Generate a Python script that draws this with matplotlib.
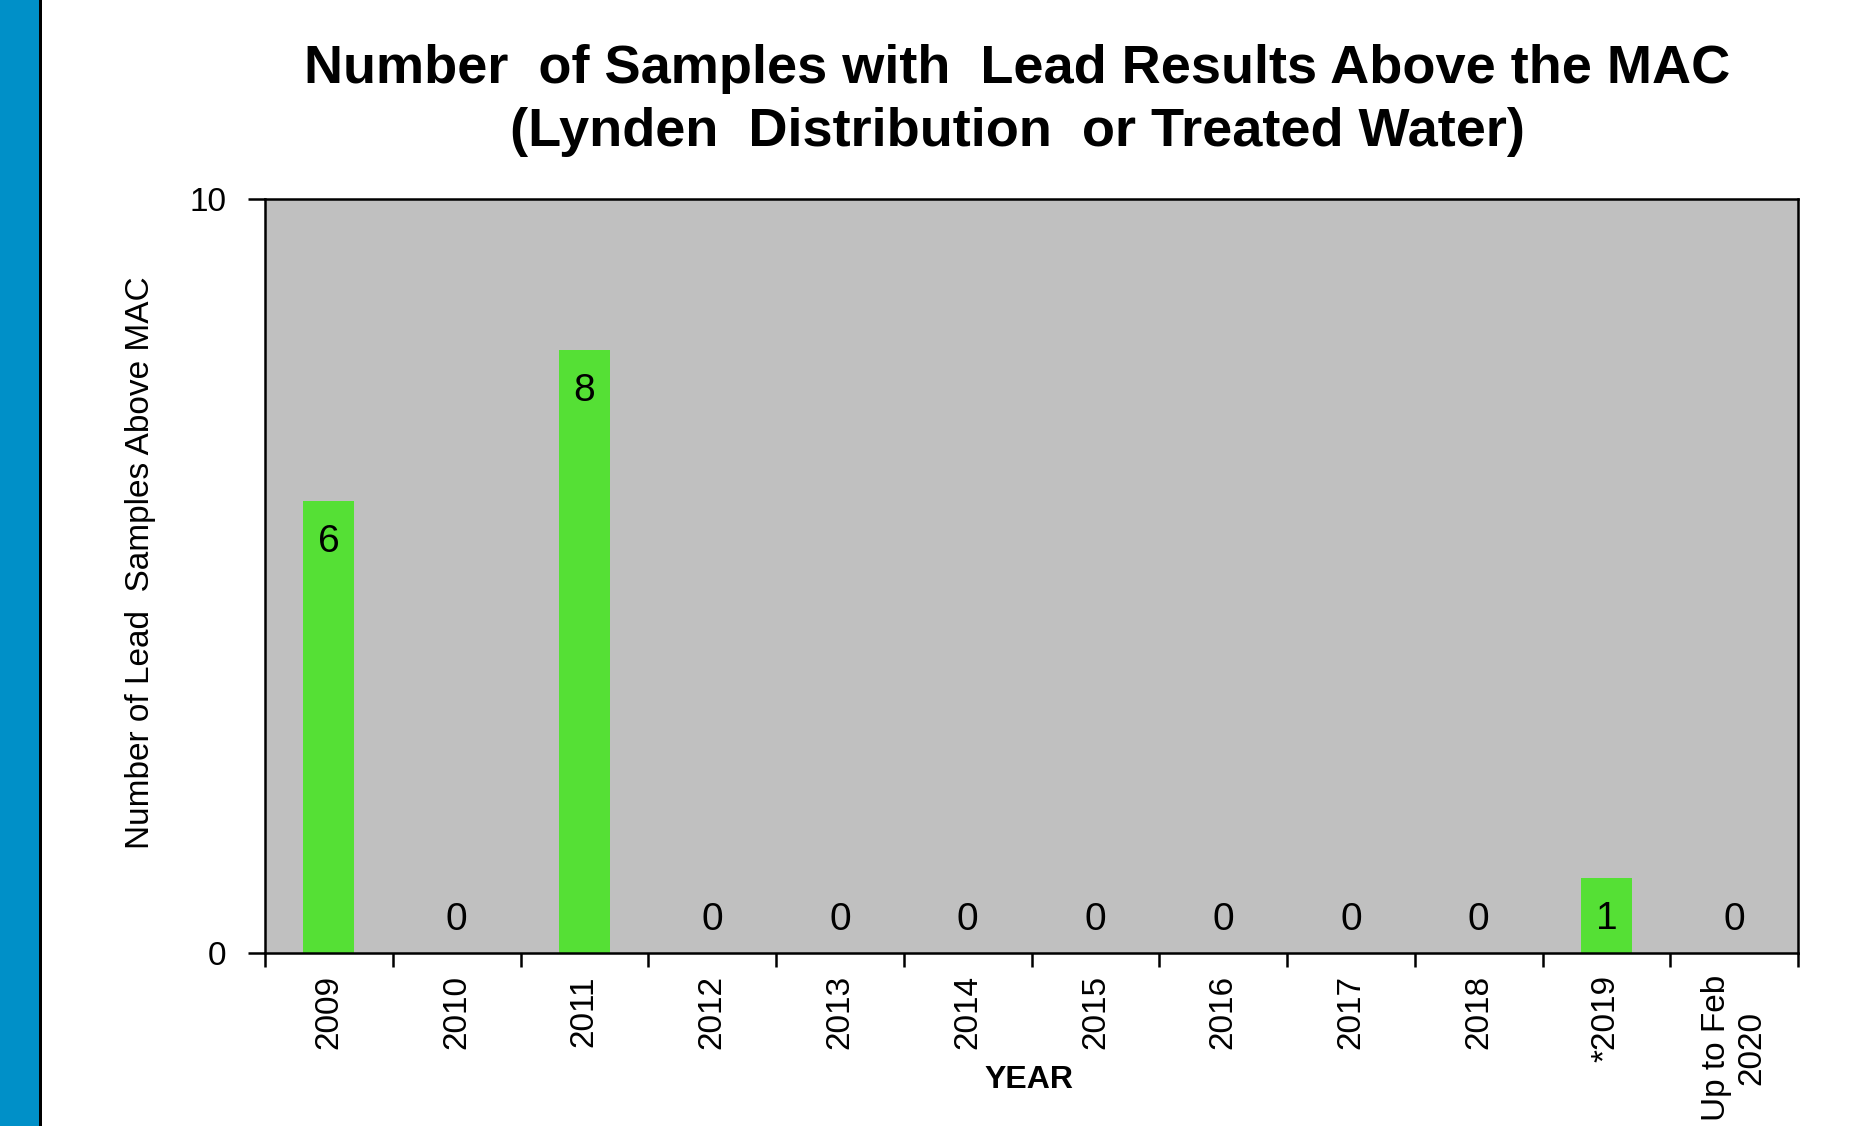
import matplotlib
matplotlib.use("Agg")
import matplotlib.pyplot as plt
from matplotlib.patches import Rectangle
from matplotlib.ticker import FixedLocator

# Daten
years = ["2009", "2010", "2011", "2012", "2013", "2014", "2015", "2016",
         "2017", "2018", "*2019", "Up to Feb\n2020"]
samples_above_mac = [6, 0, 8, 0, 0, 0, 0, 0, 0, 0, 1, 0]

plt.rcParams["font.family"] = ["Liberation Sans", "DejaVu Sans"]

fig = plt.figure(figsize=(18.54, 11.26), dpi=100)

# blauer Streifen links
fig.patches.append(Rectangle((0, 0), 39 / 1854, 1, transform=fig.transFigure,
                             facecolor="#0090C8", edgecolor="none", zorder=0))
fig.patches.append(Rectangle((39 / 1854, 0), 2.5 / 1854, 1, transform=fig.transFigure,
                             facecolor="black", edgecolor="none", zorder=0))

ax = fig.add_axes([265 / 1854, 1 - 953 / 1126, (1798 - 265) / 1854, (953 - 199) / 1126])
ax.set_facecolor("#C0C0C0")

x = list(range(len(years)))
ax.bar(x, samples_above_mac, width=0.4, color="#55E035", edgecolor="none")

# Beschriftungen der Balken
for xi, v in zip(x, samples_above_mac):
    if v > 0:
        ax.annotate(str(v), (xi, v), xytext=(0, -30), textcoords="offset points",
                    ha="center", va="center", fontsize=28)
    else:
        ax.annotate(str(v), (xi, v), xytext=(0, 24), textcoords="offset points",
                    ha="center", va="center", fontsize=28)

ax.set_xlim(-0.5, len(years) - 0.5)
ax.set_ylim(0, 10)

# Achsen
for s in ax.spines.values():
    s.set_linewidth(1.8)
    s.set_color("black")

ax.set_yticks([0, 10])
ax.set_yticklabels(["0", "10"], fontsize=24)
ax.tick_params(axis="y", length=12, width=1.8, pad=16)

ax.xaxis.set_major_locator(FixedLocator([i - 0.5 for i in range(len(years) + 1)]))
ax.xaxis.set_minor_locator(FixedLocator(x))
ax.set_xticklabels([], minor=False)
ax.set_xticklabels(years, minor=True, rotation=90, va="top", ha="center",
                   multialignment="center", fontsize=24)
ax.tick_params(axis="x", which="major", length=10, width=1.8)
ax.tick_params(axis="x", which="minor", length=0, pad=16)

# Titel
fig.text(1017 / 1854, 1 - 69 / 1126, "Number  of Samples with  Lead Results Above the MAC",
         ha="center", va="center", fontsize=39, fontweight="bold")
fig.text(1017 / 1854, 1 - 132 / 1126, "(Lynden  Distribution  or Treated Water)",
         ha="center", va="center", fontsize=39, fontweight="bold")

fig.text(141 / 1854, 0.5, "Number of Lead  Samples Above MAC", rotation=90,
         ha="center", va="center", fontsize=24)
fig.text(1029 / 1854, 1 - 1080 / 1126, "YEAR", ha="center", va="center",
         fontsize=23, fontweight="bold")

fig.savefig("out.png", dpi=100)
